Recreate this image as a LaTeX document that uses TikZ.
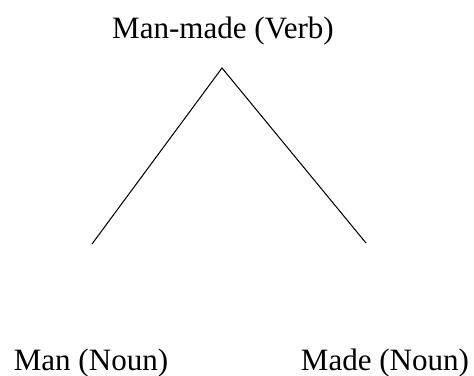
\documentclass[tikz,border=0pt]{standalone}
\usepackage{fontspec}
\setmainfont{Liberation Serif}

\begin{document}
\begin{tikzpicture}[x=0.483pt, y=-0.483pt, font=\fontsize{15}{18}\selectfont,
  lab/.style={inner sep=0pt, anchor=base},
  branch/.style={draw=black, line width=0.5pt}]

% frame (pixel units, y down)
\useasboundingbox (0,0) rectangle (474,376);

% labels
\node[lab] (verb) at (223,38) {Man-made (Verb)};
\node[lab] (noun1) at (91,370) {Man (Noun)};
\node[lab] (noun2) at (385,370) {Made (Noun)};

% tree
\coordinate (apex) at (222,68);
\coordinate (leftend) at (92,244);
\coordinate (rightend) at (366,243);
\draw[branch] (leftend) -- (apex) -- (rightend);
\end{tikzpicture}
\end{document}
